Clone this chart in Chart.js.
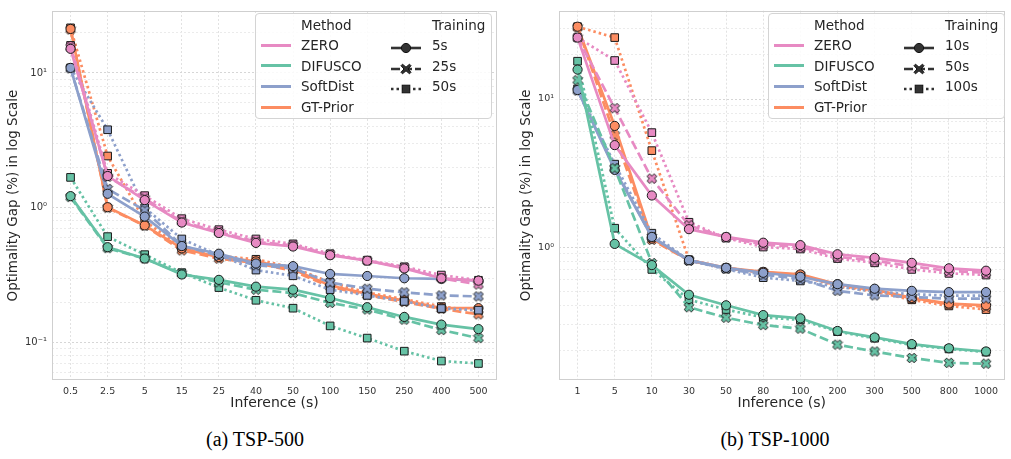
<!DOCTYPE html>
<html><head><meta charset="utf-8">
<script src="https://cdn.jsdelivr.net/npm/chart.js@4.4.1/dist/chart.umd.min.js"></script>
<style>
body{margin:0;background:#fff;width:1011px;height:459px;position:relative;overflow:hidden;font-family:"DejaVu Sans",sans-serif;}
canvas{position:absolute;top:0;}
#c1{left:0;}
#c2{left:505px;}
.legend{position:absolute;top:13px;width:237px;height:106px;border:1px solid #d4d4d4;border-radius:4px;background:rgba(255,255,255,0.85);box-sizing:border-box;}
.lt{position:absolute;font-size:13.5px;line-height:16px;color:#262626;white-space:nowrap;}
.ll{position:absolute;width:30px;height:3px;}
.ls{position:absolute;}
.caption{position:absolute;top:427px;width:260px;text-align:center;font-family:"Liberation Serif","Times New Roman",serif;font-size:20px;line-height:24px;color:#000;}
</style></head>
<body>
<canvas id="c1" width="505" height="415"></canvas>
<canvas id="c2" width="506" height="415"></canvas>
<div class="legend" id="lg1" style="left:255px;"></div>
<div class="legend" id="lg2" style="left:768px;"></div>
<div class="caption" style="left:125px;">(a) TSP-500</div>
<div class="caption" style="left:645px;">(b) TSP-1000</div>
<script>
// ---------- DATA ----------
const methods = ['ZERO', 'DIFUSCO', 'SoftDist', 'GT-Prior'];
const methodColors = ['#e78ac3', '#66c2a5', '#8da0cb', '#fc8d62'];

// TSP-500
const tsp500Categories = ['0.5','2.5','5','15','25','40','50','100','150','250','400','500'];
const tsp500Training = ['5s', '25s', '50s'];
const tsp500_zero_5s     = [15.1, 1.72, 1.14, 0.777, 0.65, 0.549, 0.516, 0.445, 0.405, 0.355, 0.30, 0.288];
const tsp500_zero_25s    = [15.5, 1.70, 1.17, 0.79, 0.66, 0.56, 0.525, 0.45, 0.405, 0.36, 0.30, 0.27];
const tsp500_zero_50s    = [16.0, 1.80, 1.23, 0.83, 0.688, 0.587, 0.54, 0.456, 0.408, 0.365, 0.317, 0.29];
const tsp500_difusco_5s  = [1.22, 0.51, 0.42, 0.32, 0.292, 0.26, 0.247, 0.214, 0.183, 0.155, 0.136, 0.126];
const tsp500_difusco_25s = [1.20, 0.502, 0.42, 0.325, 0.28, 0.247, 0.233, 0.197, 0.176, 0.148, 0.124, 0.108];
const tsp500_difusco_50s = [1.68, 0.611, 0.449, 0.33, 0.256, 0.206, 0.18, 0.133, 0.108, 0.0864, 0.073, 0.07];
const tsp500_softdist_5s = [10.9, 1.27, 0.86, 0.52, 0.456, 0.386, 0.369, 0.323, 0.312, 0.30, 0.297, 0.288];
const tsp500_softdist_25s= [10.8, 1.38, 0.956, 0.525, 0.44, 0.375, 0.355, 0.279, 0.251, 0.236, 0.224, 0.22];
const tsp500_softdist_50s= [10.9, 3.79, 1.0, 0.587, 0.445, 0.345, 0.313, 0.247, 0.224, 0.202, 0.179, 0.174];
const tsp500_gtprior_5s  = [21.2, 1.01, 0.74, 0.50, 0.43, 0.40, 0.35, 0.265, 0.23, 0.205, 0.18, 0.18];
const tsp500_gtprior_25s = [21.0, 1.00, 0.735, 0.483, 0.42, 0.39, 0.34, 0.26, 0.225, 0.20, 0.178, 0.162];
const tsp500_gtprior_50s = [21.6, 2.42, 0.80, 0.50, 0.44, 0.415, 0.36, 0.28, 0.235, 0.21, 0.185, 0.172];

// TSP-1000
const tsp1000Categories = ['1','5','10','30','50','80','100','200','300','500','800','1000'];
const tsp1000Training = ['10s', '50s', '100s'];
const tsp1000_zero_10s      = [26.0, 4.88, 2.23, 1.32, 1.17, 1.07, 1.03, 0.894, 0.845, 0.782, 0.718, 0.692];
const tsp1000_zero_50s      = [26.0, 8.67, 2.9, 1.40, 1.16, 1.04, 1.0, 0.86, 0.81, 0.74, 0.69, 0.67];
const tsp1000_zero_100s     = [26.0, 18.2, 5.93, 1.47, 1.15, 1.0, 0.97, 0.836, 0.782, 0.706, 0.664, 0.647];
const tsp1000_difusco_10s   = [15.8, 1.05, 0.755, 0.476, 0.404, 0.347, 0.33, 0.271, 0.245, 0.221, 0.207, 0.197];
const tsp1000_difusco_50s   = [13.4, 3.4, 0.78, 0.392, 0.333, 0.297, 0.281, 0.219, 0.197, 0.178, 0.165, 0.163];
const tsp1000_difusco_100s  = [18.0, 1.34, 0.706, 0.441, 0.378, 0.335, 0.322, 0.268, 0.242, 0.218, 0.205, 0.195];
const tsp1000_softdist_10s  = [11.5, 3.32, 1.17, 0.815, 0.724, 0.67, 0.63, 0.561, 0.523, 0.506, 0.496, 0.496];
const tsp1000_softdist_50s  = [11.4, 3.4, 1.17, 0.81, 0.715, 0.65, 0.61, 0.506, 0.471, 0.46, 0.448, 0.448];
const tsp1000_softdist_100s = [11.7, 3.63, 1.24, 0.81, 0.71, 0.621, 0.59, 0.54, 0.50, 0.48, 0.47, 0.47];
const tsp1000_gtprior_10s   = [30.8, 6.58, 1.14, 0.815, 0.724, 0.68, 0.653, 0.56, 0.515, 0.453, 0.415, 0.404];
const tsp1000_gtprior_50s   = [30.5, 5.69, 1.12, 0.81, 0.72, 0.675, 0.645, 0.55, 0.51, 0.45, 0.41, 0.395];
const tsp1000_gtprior_100s  = [30.8, 26.0, 4.48, 0.82, 0.72, 0.67, 0.64, 0.545, 0.50, 0.44, 0.40, 0.378];

const tsp500Series = [
  [tsp500_zero_5s, tsp500_zero_25s, tsp500_zero_50s],
  [tsp500_difusco_5s, tsp500_difusco_25s, tsp500_difusco_50s],
  [tsp500_softdist_5s, tsp500_softdist_25s, tsp500_softdist_50s],
  [tsp500_gtprior_5s, tsp500_gtprior_25s, tsp500_gtprior_50s]
];
const tsp1000Series = [
  [tsp1000_zero_10s, tsp1000_zero_50s, tsp1000_zero_100s],
  [tsp1000_difusco_10s, tsp1000_difusco_50s, tsp1000_difusco_100s],
  [tsp1000_softdist_10s, tsp1000_softdist_50s, tsp1000_softdist_100s],
  [tsp1000_gtprior_10s, tsp1000_gtprior_50s, tsp1000_gtprior_100s]
];

// ---------- STYLE ----------
const dashes = [[], [9, 4], [2.5, 3]];
const EDGE = '#1a1a1a';

function makeX(color, size) {
  const c = document.createElement('canvas');
  c.width = c.height = size;
  const ctx = c.getContext('2d');
  const L = size * 0.42, a = size * 0.15;
  const pts = [[-a,-L],[a,-L],[a,-a],[L,-a],[L,a],[a,a],[a,L],[-a,L],[-a,a],[-L,a],[-L,-a],[-a,-a]];
  const cs = Math.SQRT1_2;
  ctx.beginPath();
  pts.forEach((p, i) => {
    const x = size/2 + (p[0]*cs - p[1]*cs);
    const y = size/2 + (p[0]*cs + p[1]*cs);
    if (i === 0) ctx.moveTo(x, y); else ctx.lineTo(x, y);
  });
  ctx.closePath();
  ctx.fillStyle = color; ctx.fill();
  ctx.lineWidth = 1; ctx.strokeStyle = EDGE; ctx.stroke();
  return c;
}

const sup = {'1':'¹','0':'⁰','-':'⁻','2':'²'};
function decadeLabel(e) { return '10' + String(e).split('').map(ch => sup[ch]).join(''); }

const framePlugin = {
  id: 'frame',
  beforeDatasetsDraw(chart) {
    const {ctx, chartArea: a} = chart;
    ctx.save();
    ctx.strokeStyle = '#cfcfcf';
    ctx.lineWidth = 1;
    ctx.strokeRect(Math.round(a.left) + 0.5, Math.round(a.top) + 0.5, Math.round(a.right - a.left) - 1, Math.round(a.bottom - a.top) - 1);
    ctx.restore();
  }
};

function makeChart(id, cats, series, yMin, yMax, geo) {
  const datasets = [];
  series.forEach((group, mi) => {
    group.forEach((data, ti) => {
      const col = methodColors[mi];
      let style, r;
      if (ti === 0) { style = 'circle'; r = 4.6; }
      else if (ti === 1) { style = makeX(col, 12); r = 5; }
      else { style = 'rect'; r = 5.4; }
      datasets.push({
        label: methods[mi] + ' ' + ti,
        data: data,
        borderColor: col,
        backgroundColor: col,
        borderWidth: 2.7,
        borderDash: dashes[ti],
        borderCapStyle: 'butt',
        pointStyle: style,
        pointRadius: r,
        pointBackgroundColor: col,
        pointBorderColor: EDGE,
        pointBorderWidth: 1,
        tension: 0,
        fill: false
      });
    });
  });

  new Chart(document.getElementById(id), {
    type: 'line',
    data: { labels: cats, datasets },
    plugins: [framePlugin],
    options: {
      responsive: false,
      animation: false,
      devicePixelRatio: 1,
      layout: { padding: { left: 0, right: geo.right, top: 5, bottom: 0 } },
      plugins: { legend: { display: false }, tooltip: { enabled: false } },
      scales: {
        x: {
          type: 'category',
          offset: true,
          grid: { color: '#e2e2e2', drawTicks: false, lineWidth: 1 },
          border: { display: false, dash: [2, 2] },
          ticks: { color: '#333', font: { size: geo.xTick }, padding: 6, maxRotation: 0, autoSkip: false },
          title: { display: true, text: 'Inference (s)', color: '#262626', font: { size: 14 }, padding: { top: 2, bottom: 3 } },
          afterFit(s) { s.height = 35; }
        },
        y: {
          type: 'logarithmic',
          min: yMin,
          max: yMax,
          afterBuildTicks(s) {
            const t = [];
            for (let e = -3; e <= 3; e++) {
              for (let m = 1; m <= 9; m++) {
                const v = m * Math.pow(10, e);
                if (v > yMin && v < yMax) t.push({ value: v, major: m === 1 });
              }
            }
            s.ticks = t;
          },
          grid: {
            drawTicks: false,
            color: (c) => (c.tick && c.tick.major) ? '#d6d6d6' : '#ebebeb',
            lineWidth: 1
          },
          border: { display: false, dash: [2, 2] },
          ticks: {
            autoSkip: false,
            color: '#333',
            font: { size: geo.yTick },
            padding: 5,
            callback: (v) => {
              const l = Math.log10(v);
              const r = Math.round(l);
              return Math.abs(l - r) < 1e-9 ? decadeLabel(r) : '';
            }
          },
          title: { display: true, text: 'Optimality Gap (%) in log Scale', color: '#262626', font: { size: 13.5 }, padding: { top: geo.yTitlePad, bottom: 0 } },
          afterFit(s) { s.width = geo.yWidth; }
        }
      }
    }
  });
}

Chart.defaults.font.family = '"DejaVu Sans", sans-serif';

makeChart('c1', tsp500Categories, tsp500Series, 0.0528, 28.8,
  { right: 8, yWidth: 52, yTitlePad: 5, xTick: 9.5, yTick: 10 });
makeChart('c2', tsp1000Categories, tsp1000Series, 0.1264, 39.5,
  { right: 6, yWidth: 54, yTitlePad: 13, xTick: 9.5, yTick: 9.5 });

// ---------- LEGENDS ----------
function markerSVG(ti) {
  const dash = ti === 0 ? '' : (ti === 1 ? 'stroke-dasharray="9 3"' : 'stroke-dasharray="2.5 3"');
  let m;
  if (ti === 0) m = '<circle cx="15" cy="6" r="4.6" fill="#333" stroke="#111" stroke-width="1"/>';
  else if (ti === 1) m = '<path d="M11.5 3.2 L15 6.2 L18.5 3.2 L20 4.7 L17 8 L20 11.3 L18.5 12.8 L15 9.8 L11.5 12.8 L10 11.3 L13 8 L10 4.7 Z" transform="translate(0,-2)" fill="#333" stroke="#111" stroke-width="1"/>';
  else m = '<rect x="11.2" y="2.2" width="7.6" height="7.6" fill="#333" stroke="#111" stroke-width="1"/>';
  return '<svg width="30" height="12" viewBox="0 0 30 12"><line x1="0" y1="6" x2="30" y2="6" stroke="#333" stroke-width="2.6" ' + dash + '/>' + m + '</svg>';
}
function buildLegend(id, training) {
  const el = document.getElementById(id);
  const rows = [31, 51.5, 72, 93];
  let h = '<div class="lt" style="left:45px;top:3px;">Method</div>';
  h += '<div class="lt" style="left:176px;top:3px;">Training</div>';
  methods.forEach((m, i) => {
    h += '<div class="ll" style="left:5px;top:' + (rows[i] - 1.5) + 'px;background:' + methodColors[i] + ';"></div>';
    h += '<div class="lt" style="left:45px;top:' + (rows[i] - 8) + 'px;">' + m + '</div>';
  });
  training.forEach((t, i) => {
    h += '<div class="ls" style="left:135px;top:' + (rows[i] - 6) + 'px;">' + markerSVG(i) + '</div>';
    h += '<div class="lt" style="left:176px;top:' + (rows[i] - 8) + 'px;">' + t + '</div>';
  });
  el.innerHTML = h;
}
buildLegend('lg1', tsp500Training);
buildLegend('lg2', tsp1000Training);
</script>
</body></html>
